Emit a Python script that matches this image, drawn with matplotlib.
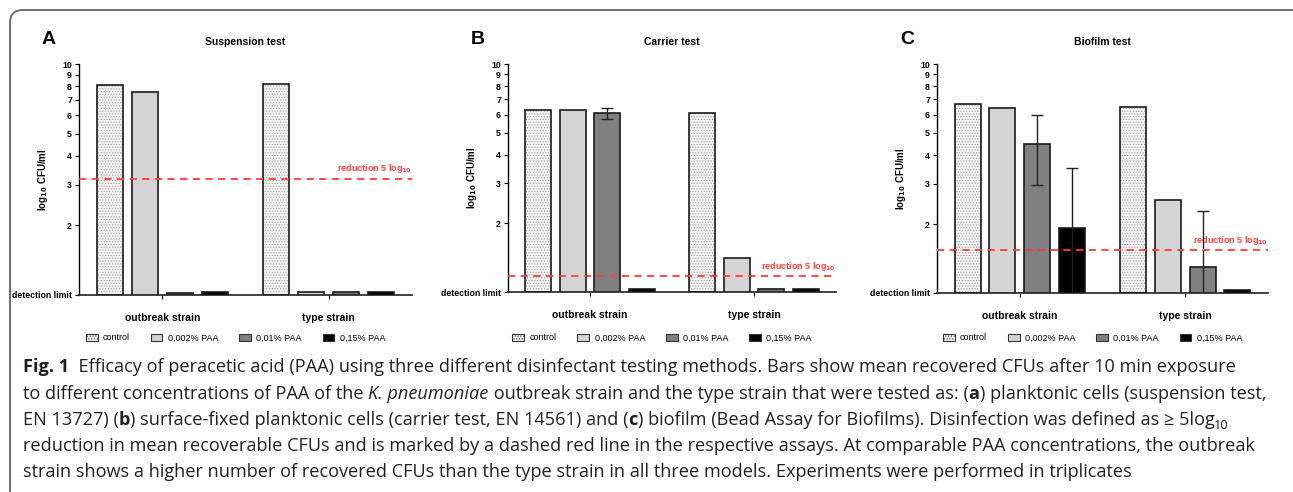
import matplotlib
matplotlib.use("Agg")
import matplotlib.pyplot as plt
from matplotlib.patches import Patch, FancyBboxPatch
from matplotlib.transforms import IdentityTransform
from matplotlib.font_manager import FontProperties
import numpy as np

plt.rcParams['font.family'] = ['Liberation Sans', 'DejaVu Sans']
plt.rcParams['hatch.linewidth'] = 0.5

# --- data (log10 CFU/ml, axis bottom = detection limit = 1) ---
groups = ["outbreak strain", "type strain"]
treatments = ["control", "0,002% PAA", "0,01% PAA", "0,15% PAA"]
titles = ["Suspension test", "Carrier test", "Biofilm test"]
letters = ["A", "B", "C"]

# each row = one treatment, values for [outbreak, type]
susp_means = [[8.1, 8.2], [7.55, 1.03], [1.02, 1.03], [1.03, 1.03]]
susp_err = [[0, 0], [0, 0], [0, 0], [0, 0]]
carrier_means = [[6.27, 6.11], [6.27, 1.41], [6.08, 1.03], [1.03, 1.03]]
carrier_err = [[0, 0], [0, 0], [0.35, 0], [0, 0]]
biofilm_means = [[6.66, 6.49], [6.4, 2.55], [4.47, 1.30], [1.93, 1.03]]
biofilm_err = [[0, 0], [0, 0], [1.5, 0.99], [1.6, 0]]
reduction_line = [3.18, 1.17, 1.54]

ytick_vals = [1, 2, 3, 4, 5, 6, 7, 8, 9, 10]
ytick_labels = ["detection limit", "2", "3", "4", "5", "6", "7", "8", "9", "10"]

all_means = [susp_means, carrier_means, biofilm_means]
all_errs = [susp_err, carrier_err, biofilm_err]

fills = ["#f2f2f2", "#d4d4d4", "#808080", "#000000"]
hatches = ["......", None, None, None]

fig = plt.figure(figsize=(12.93, 4.92), dpi=100)

# panel boxes in pixels: left, right, top, bottom
panels_px = [(79, 412, 64, 295), (508, 836, 64, 292), (937, 1268, 64, 293)]
W, H = 1293, 492

pitch, width = 0.21, 0.157
xg = np.arange(len(groups))

for i, (l, r, t, b) in enumerate(panels_px):
    ax = fig.add_axes([l / W, 1 - b / H, (r - l) / W, (b - t) / H])
    means = all_means[i]
    errs = all_errs[i]
    for k in range(len(treatments)):
        xs = xg + (k - 1.5) * pitch
        if hatches[k]:
            ax.bar(xs, np.array(means[k]) - 1, width, bottom=1, color=fills[k],
                   hatch=hatches[k], edgecolor="#a0a0a0", linewidth=0, zorder=2)
            ax.bar(xs, np.array(means[k]) - 1, width, bottom=1, fill=False,
                   edgecolor="#1a1a1a", linewidth=1.2, zorder=3)
        else:
            ax.bar(xs, np.array(means[k]) - 1, width, bottom=1, color=fills[k],
                   edgecolor="#1a1a1a", linewidth=1.2, zorder=3)
        e = np.array(errs[k])
        m = np.array(means[k])
        sel = e > 0
        if sel.any():
            ax.errorbar(xs[sel], m[sel], yerr=e[sel], fmt="none", ecolor="#222222",
                        elinewidth=1.0, capsize=4, capthick=1.0, zorder=4)

    ax.set_yscale("log")
    ax.set_ylim(1, 10)
    ax.set_xlim(-0.5, 1.5)
    ax.minorticks_off()
    ax.set_yticks(ytick_vals)
    ax.set_yticklabels(ytick_labels)
    for lab in ax.get_yticklabels():
        lab.set_fontweight("bold")
        lab.set_fontsize(6.3)
    ax.tick_params(axis="y", length=3, width=0.8, pad=2)
    ax.set_xticks(xg)
    ax.set_xticklabels(groups, fontsize=7.5, fontweight="bold")
    ax.tick_params(axis="x", length=3, width=0.8, pad=10)
    for s in ["top", "right"]:
        ax.spines[s].set_visible(False)
    ax.spines["left"].set_linewidth(1.0)
    ax.spines["bottom"].set_linewidth(1.3)
    ax.spines["bottom"].set_color("#333333")

    ax.set_ylabel(r"log$_{\mathbf{10}}$ CFU/ml", fontsize=7, fontweight="bold")
    ax.yaxis.set_label_coords(-29 / (r - l), 0.5)

    ax.axhline(reduction_line[i], color="#ff3b3b", linestyle=(0, (4, 3)), linewidth=1.3, zorder=5)
    ax.text(1.0, reduction_line[i] * 1.035, r"reduction 5 log$_{\mathbf{10}}$", color="#ff4040",
            fontsize=6.5, fontweight="bold", ha="right", va="bottom",
            transform=ax.get_yaxis_transform())
    fig.text((l + r) / 2 / W, 1 - 42 / H, titles[i], fontsize=7.5, fontweight="bold",
             ha="center", va="center")
    fig.text((l - 30) / W, 1 - 40 / H, letters[i], fontsize=14, fontweight="bold",
             ha="center", va="center")

    handles = [Patch(facecolor=fills[k], edgecolor="#333333", hatch=hatches[k], linewidth=0.8)
               for k in range(len(treatments))]
    ax.legend(handles, treatments, loc="center", bbox_to_anchor=(0.47, -(338 - b) / (b - t)),
              ncol=4, frameon=False, fontsize=6.5, handlelength=1.3, handleheight=0.7,
              handletextpad=0.6, columnspacing=2.3)

# outer rounded frame (runs off the right and bottom edges)
frame = FancyBboxPatch((10, -12), 1300, 494,
                       boxstyle="round,pad=0,rounding_size=13", transform=IdentityTransform(),
                       fill=False, edgecolor="#6e6e6e", linewidth=1.4)
fig.patches.append(frame)

# caption, drawn in runs so bold / italic pieces line up
cap_font = ["Open Sans", "DejaVu Sans"]
n, bd, it, sub = "normal", "bold", "italic", "sub"
caption = [
    [("Fig. 1", bd), ("  Efficacy of peracetic acid (PAA) using three different disinfectant testing methods. "
                      "Bars show mean recovered CFUs after 10 min exposure", n)],
    [("to different concentrations of PAA of the ", n), ("K. pneumoniae", it),
     (" outbreak strain and the type strain that were tested as: (", n), ("a", bd),
     (") planktonic cells (suspension test,", n)],
    [("EN 13727) (", n), ("b", bd), (") surface-fixed planktonic cells (carrier test, EN 14561) and (", n),
     ("c", bd), (") biofilm (Bead Assay for Biofilms). Disinfection was defined as \u2265 5log", n), ("10", sub)],
    [("reduction in mean recoverable CFUs and is marked by a dashed red line in the respective assays. "
      "At comparable PAA concentrations, the outbreak", n)],
    [("strain shows a higher number of recovered CFUs than the type strain in all three models. "
      "Experiments were performed in triplicates", n)],
]

renderer = fig.canvas.get_renderer()


def props(kind, size):
    if kind == bd:
        return FontProperties(family=cap_font, weight="bold", size=size)
    if kind == it:
        return FontProperties(family=cap_font, style="italic", size=size)
    if kind == sub:
        return FontProperties(family=cap_font, size=size * 0.7)
    return FontProperties(family=cap_font, size=size)


def run_width(s, fp):
    w1 = renderer.get_text_width_height_descent("x" + s + "x", fp, ismath=False)[0]
    w0 = renderer.get_text_width_height_descent("xx", fp, ismath=False)[0]
    return w1 - w0


# fit the last line to its width in the reference
ref_w = 1135 - 23
fs = 10 * ref_w / run_width(caption[4][0][0], props(n, 10))

line_y = [366, 393, 419, 445, 471]
for line, yy in zip(caption, line_y):
    x = 23
    base = H - yy - 6
    for s, kind in line:
        fp = props(kind, fs)
        y = base - 4 if kind == sub else base
        fig.text(x, y, s, fontproperties=fp, transform=IdentityTransform(),
                 ha="left", va="baseline", color="#231f20")
        x += run_width(s, fp)

fig.savefig("out.png", dpi=100)
